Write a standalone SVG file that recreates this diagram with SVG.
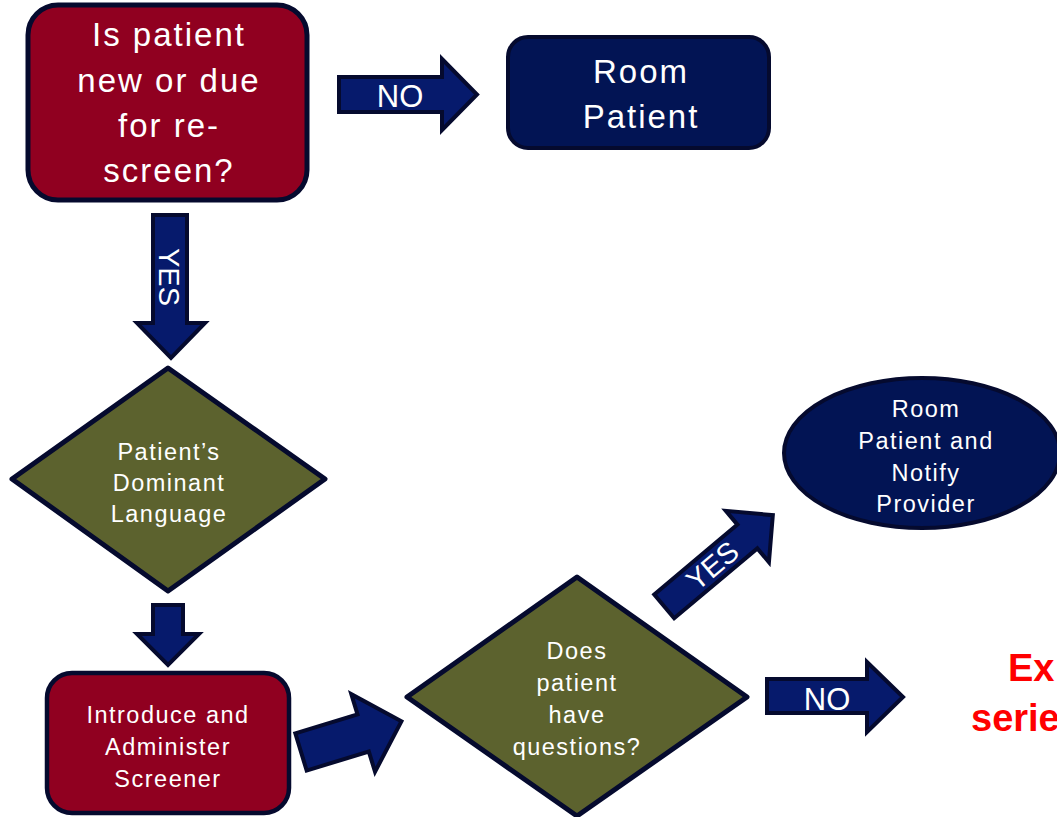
<svg xmlns="http://www.w3.org/2000/svg" width="1057" height="817" viewBox="0 0 1057 817">
<style>
text{font-family:"Liberation Sans",Arial,sans-serif;fill:#fff;text-anchor:middle}
.big{font-size:33px;letter-spacing:2px}
.sm{font-size:23.5px;letter-spacing:1.5px}
.lbl{font-size:31px}
.red{fill:#f00;font-weight:bold;font-size:38px;text-anchor:start}
.burg{fill:#900020;stroke:#050a2e;stroke-width:5}
.navy{fill:#021454;stroke:#050a2e;stroke-width:4}
.olive{fill:#5c622e;stroke:#050a2e;stroke-width:5;stroke-linejoin:round}
.arr{fill:#061a6c;stroke:#050a2e;stroke-width:4;stroke-linejoin:miter}
</style>
<rect width="1057" height="817" fill="#fff"/>
<g id="connectors">
  <g id="no1">
    <polygon class="arr" points="339,77 442,77 442,59 477,94.5 442,130 442,112 339,112"/>
    <text class="lbl" x="400" y="107">NO</text>
  </g>
  <g id="yes1">
    <polygon class="arr" points="153,215 187,215 187,323 205,323 171,358 137,323 153,323"/>
    <text class="lbl" transform="translate(169,277) rotate(90)" x="0" y="10" style="font-size:29px">YES</text>
  </g>
  <g id="down2">
    <polygon class="arr" points="153,605 183,605 183,634 199,634 168,665 137,634 153,634"/>
  </g>
  <g id="toDoes" transform="translate(301,752) rotate(-17)">
    <polygon class="arr" points="0,-19.4 65,-19.4 65,-40.6 105,0 65,40.6 65,19.4 0,19.4"/>
  </g>
  <g id="yes2" transform="translate(664.2,606.3) rotate(-40)">
    <polygon class="arr" points="0,-15.5 108.6,-15.5 108.6,-33.5 141.8,0 108.6,33.5 108.6,15.5 0,15.5"/>
    <text class="lbl" x="63" y="10" style="font-size:29px">YES</text>
  </g>
  <g id="no2">
    <polygon class="arr" points="767,679 867,679 867,662 903,697 867,732 867,713 767,713"/>
    <text class="lbl" x="827" y="710">NO</text>
  </g>
</g>
<g id="n_new">
  <rect class="burg" x="28" y="5" width="279" height="195" rx="30"/>
  <text class="big" x="169" y="46">Is patient</text>
  <text class="big" x="169" y="92">new or due</text>
  <text class="big" x="169" y="137">for re-</text>
  <text class="big" x="169" y="182">screen?</text>
</g>
<g id="n_room">
  <rect class="navy" x="508" y="37" width="261" height="111" rx="20"/>
  <text class="big" x="641" y="83">Room</text>
  <text class="big" x="641" y="128">Patient</text>
</g>
<g id="n_lang">
  <polygon class="olive" points="168,368 325,479 168,591 12,479"/>
  <text class="sm" x="169" y="460">Patient’s</text>
  <text class="sm" x="169" y="491">Dominant</text>
  <text class="sm" x="169" y="522">Language</text>
</g>
<g id="n_intro">
  <rect class="burg" x="47" y="673" width="242" height="140" rx="25" style="stroke-width:4.5"/>
  <text class="sm" x="168" y="723">Introduce and</text>
  <text class="sm" x="168" y="755">Administer</text>
  <text class="sm" x="168" y="787">Screener</text>
</g>
<g id="n_does">
  <polygon class="olive" points="577,577 747,697 577,816 407,697"/>
  <text class="sm" x="577" y="659">Does</text>
  <text class="sm" x="577" y="691">patient</text>
  <text class="sm" x="577" y="723">have</text>
  <text class="sm" x="577" y="755">questions?</text>
</g>
<g id="n_notify">
  <ellipse class="navy" cx="922" cy="453" rx="138" ry="75"/>
  <text class="sm" x="926" y="417">Room</text>
  <text class="sm" x="926" y="449">Patient and</text>
  <text class="sm" x="926" y="481">Notify</text>
  <text class="sm" x="926" y="512">Provider</text>
</g>
<g id="n_exit">
  <text class="red" x="1008" y="681">Ex</text>
  <text class="red" x="971" y="731">serie</text>
</g>
</svg>
